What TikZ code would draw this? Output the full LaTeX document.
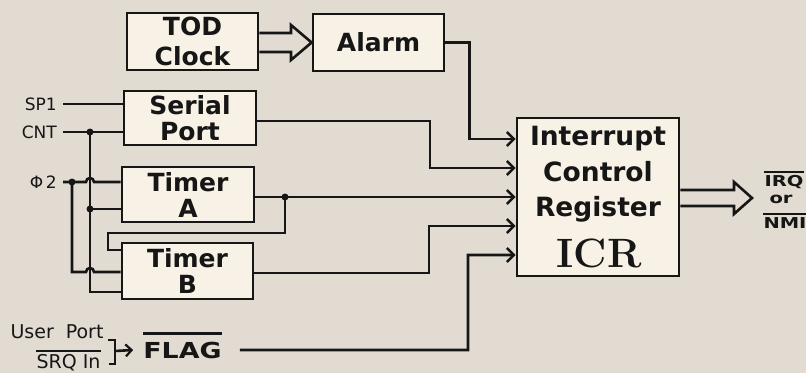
\documentclass[tikz,border=0pt]{standalone}
\usepackage{fontspec}
\setmainfont{DejaVu Sans}
\newfontfamily\lmr{Latin Modern Roman}
\usetikzlibrary{arrows.meta}
\definecolor{bg}{RGB}{225,219,209}
\definecolor{boxfill}{RGB}{247,241,230}
\definecolor{ink}{RGB}{22,22,22}
\begin{document}
\begin{tikzpicture}[x=1pt,y=-1pt,
  blk/.style={draw=ink,line width=2.8pt,fill=boxfill,inner sep=0pt,align=center,
    text=ink,font=\bfseries\fontsize{25}{26}\selectfont},
  wire/.style={draw=ink,line width=2.6pt},
  inarrow/.style={wire,-{Straight Barb[length=7pt,width=14pt,line width=2.4pt]}},
  hollow/.style={draw=ink,line width=2.6pt,line join=miter},
  lbl/.style={text=ink,inner sep=0pt,font=\fontsize{17}{20}\selectfont},
  ulbl/.style={text=ink,inner sep=0pt,font=\fontsize{19}{22}\selectfont},
  icrtxt/.style={text=ink,inner sep=0pt,anchor=base,font=\bfseries\fontsize{26.5}{28}\selectfont},
  outtxt/.style={text=ink,inner sep=0pt,anchor=base,font=\bfseries\fontsize{15}{16}\selectfont},
  dot/.style={circle,fill=ink,inner sep=0pt,minimum size=7pt}
]
\useasboundingbox[fill=bg] (0,0) rectangle (806,373);

% blocks
\node[blk,minimum width=131pt,minimum height=57pt] (tod) at (192.5,41.5) {TOD\\[4pt]Clock};
\node[blk,minimum width=131pt,minimum height=57pt] (alarm) at (378.5,42.5) {Alarm};
\node[blk,minimum width=132pt,minimum height=54pt] (serial) at (190,118) {Serial\\Port};
\node[blk,minimum width=132pt,minimum height=55pt] (timera) at (188,194.5) {Timer\\A};
\node[blk,minimum width=131pt,minimum height=56pt] (timerb) at (187.5,271) {Timer\\B};
\node[blk,minimum width=162pt,minimum height=158pt] (icr) at (598,197) {};
\node[icrtxt] (icr1) at (598,145) {Interrupt};
\node[icrtxt] (icr2) at (598,181) {Control};
\node[icrtxt] (icr3) at (598,216) {Register};
\node[icrtxt,font=\lmr\bfseries\fontsize{41}{41}\selectfont] (icr4) at (599,267) {ICR};

% TOD -> Alarm hollow arrow
\draw[hollow] (tod.east |- 0,33) -- (291,33) -- (291,25) -- (alarm.west)
  -- (291,60) -- (291,52) -- (tod.east |- 0,52);

% ICR -> IRQ/NMI hollow arrow
\coordinate (outtip) at (752,198);
\draw[hollow] (icr.east |- 0,190) -- (734,190) -- (734,182) -- (outtip)
  -- (734,214) -- (734,206) -- (icr.east |- 0,206);
\node[outtxt] (irq) at (784,186) {\scalebox{1.3}[1]{IRQ}};
\node[outtxt] (orr) at (781,203) {\scalebox{1.3}[1]{or}};
\node[outtxt] (nmi) at (785,228) {\scalebox{1.3}[1]{NMI}};
\draw[ink,line width=1.8pt] ([yshift=3pt]irq.north west) -- ([yshift=3pt]irq.north east);
\draw[ink,line width=1.8pt] ([yshift=3pt]nmi.north west) -- ([yshift=3pt]nmi.north east);

% inputs into ICR
\draw[inarrow] (alarm.east) -- ++(24,0) |- (icr.west |- 0,139);
\draw[inarrow] (serial.east |- 0,121) -- (430,121) |- (icr.west |- 0,168);
\draw[inarrow] (timera.east |- 0,197) -- (icr.west |- 0,197);
\draw[inarrow] (timerb.east |- 0,273) -- (429,273) |- (icr.west |- 0,226);

% Timer A underflow to Timer B
\node[dot] (fb) at (285,197) {};
\draw[wire] (fb.center) -- (285,233) -- (108,233) -- (108,250) -- (timerb.west |- 0,250);

% left side inputs
\node[lbl,anchor=east,inner xsep=6pt] (sp1) at (63,104) {SP1};
\node[lbl,anchor=east,inner xsep=6pt] (cnt) at (63,132) {CNT};
\node[lbl,anchor=east,inner xsep=6pt] (phi) at (63,182) {Φ\,2};
\draw[wire] (sp1.east) -- (serial.west |- sp1.east);
\draw[wire] (cnt.east) -- (serial.west |- cnt.east);
\node[dot] (cntj) at (90,132) {};
\node[dot] (cntja) at (90,209) {};
\node[dot] (phij) at (72,182) {};
\draw[wire] (cntj.center) -- (90,292) -- (timerb.west |- 0,292);
\draw[wire] (cntja.center) -- (timera.west |- 0,209);
\draw[wire] (phi.east) -- (86,182) arc[start angle=180,end angle=0,radius=4pt] -- (timera.west |- 0,182);
\draw[wire] (phij.center) -- (72,272) -- (86,272) arc[start angle=180,end angle=0,radius=4pt] -- (timerb.west |- 0,272);

% User port / SRQ in -> FLAG
\node[ulbl,anchor=base] (user) at (57,338) {User\hspace{12pt}Port};
\node[ulbl,anchor=base] (srq) at (68.5,368) {SRQ In};
\draw[ink,line width=2pt] ([yshift=3pt]srq.north west) -- ([yshift=3pt]srq.north east);
\node[text=ink,inner sep=0pt,anchor=base,font=\bfseries\fontsize{22}{24}\selectfont] (flag) at (182.5,358) {\scalebox{1.22}[1]{FLAG}};
\draw[ink,line width=2.8pt] ([yshift=8pt]flag.north west) -- ([yshift=8pt]flag.north east);
\draw[wire] (108,340) -- (115,340) -- (115,364) -- (109,364);
\draw[wire,-{Straight Barb[length=6pt,width=12pt,line width=2.2pt]}] (115,351) -- ([xshift=-10pt]flag.west);
\draw[inarrow] (flag.east) ++(18,0) -- (468,350) |- (icr.west |- 0,255);
\end{tikzpicture}
\end{document}
